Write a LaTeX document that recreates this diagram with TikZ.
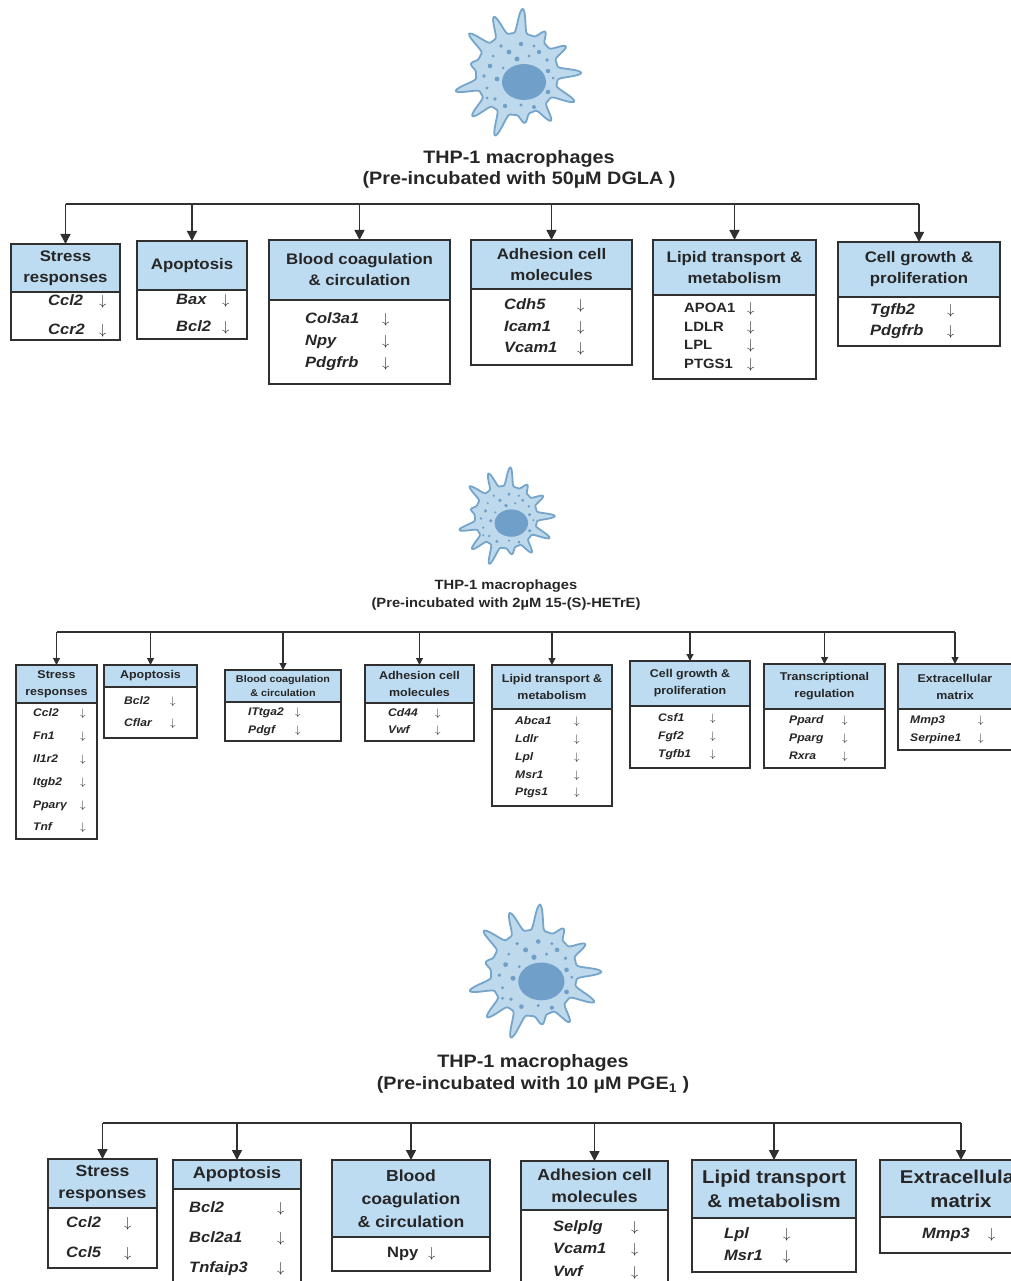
\documentclass[tikz,border=0pt]{standalone}
\usepackage{fontspec}
\setmainfont{Liberation Sans}[FakeStretch=1.1]
\usetikzlibrary{arrows.meta,positioning}

\definecolor{headBlue}{RGB}{189,220,242}
\definecolor{boxEdge}{RGB}{48,48,48}
\definecolor{cellBody}{RGB}{190,217,235}
\definecolor{cellEdge}{RGB}{118,165,203}
\definecolor{cellCore}{RGB}{112,160,201}

% gene name in a fixed-width slot, then the down arrow
\newcommand{\gene}[2]{\makebox[#1pt][l]{#2}$\downarrow$}

% macrophage icon: body with finger-like processes, nucleus and granules
\newcommand{\macrocell}[3]{%
  \begin{scope}[shift={(#1,#2)}, scale=#3]
    \filldraw[fill=cellBody, draw=cellEdge, line width=1.8pt]
      plot[smooth cycle, variable=\t, domain=0:359, samples=360]
      (\t:{41+(18+7*sin(3*\t+50)+5*sin(7*\t+10))*((1+cos(13*\t+20))/2)^3});
    \fill[cellCore] (7,8) ellipse (22 and 18);
    \foreach \dx/\dy/\r in {4/-30/2.2,17/-28/1.6,-16/-28/1.8,-8/-22/2.4,22/-22/2.2,
        -24/-18/1.5,0/-15/2.5,12/-18/1.6,30/-14/1.8,-27/-8/2.3,-14/-6/1.5,
        -33/2/1.8,-20/5/2.4,31/-3/2.2,36/4/1.5,-30/14/1.6,31/18/2.3,
        -22/25/1.8,-12/32/2.2,4/31/1.6,17/33/2.0,-30/24/1.5}
      \fill[cellCore] (\dx,\dy) circle (\r);
  \end{scope}}

\begin{document}
\begin{tikzpicture}[x=1pt, y=-1pt,
    head/.style 2 args={draw=boxEdge, fill=headBlue, line width=1.3pt,
                anchor=north west, align=center, inner sep=0pt, outer sep=0pt,
                text=black!85, font=\bfseries\fontsize{#1}{#2}\selectfont},
    body/.style={draw=boxEdge, fill=white, line width=1.3pt,
                inner sep=0pt, outer sep=0pt},
    genes/.style 2 args={align=left, inner sep=0pt, text=black!85,
                font=\bfseries\itshape\fontsize{#1}{#2}\selectfont},
    caps/.style 2 args={align=left, inner sep=0pt, text=black!85,
                font=\bfseries\fontsize{#1}{#2}\selectfont},
    title/.style 2 args={align=center, inner sep=0pt, text=black!85,
                font=\bfseries\fontsize{#1}{#2}\selectfont},
    bus/.style={draw=boxEdge, line width=1.4pt},
    feed/.style={bus, -{Triangle[length=#1pt,width=#1pt]}},
    feed/.default=10
  ]
  \useasboundingbox (0,0) rectangle (1010,1281);

  % ---------------- DGLA ----------------
  \macrocell{517}{74}{1}
  \node[title={18}{21}] (dglaTitle) at (519,169.5)
    {THP-1 macrophages\\(Pre-incubated with 50µM DGLA )};
  \coordinate (dglaBus) at (0,204);

  \node[head={15.3}{21}, minimum width=109pt, minimum height=48pt] (dglaStress) at (11,244) {Stress\\responses};
  \node[body, minimum width=109pt, minimum height=48pt, below=0pt of dglaStress] (dglaStressB) {};
  \node[genes={15}{29}, right=37pt of dglaStressB.west] {\gene{51}{Ccl2}\\\gene{51}{Ccr2}};

  \node[head={15.3}{21}, minimum width=110pt, minimum height=49pt] (dglaApop) at (137,241) {Apoptosis};
  \node[body, minimum width=110pt, minimum height=49pt, below=0pt of dglaApop] (dglaApopB) {};
  \node[genes={15}{27}, right=39pt of dglaApopB.west] {\gene{46}{Bax}\\\gene{46}{Bcl2}};

  \node[head={15.3}{21}, minimum width=181pt, minimum height=60pt] (dglaBlood) at (269,240) {Blood coagulation\\\& circulation};
  \node[body, minimum width=181pt, minimum height=84pt, below=0pt of dglaBlood] (dglaBloodB) {};
  \node[genes={15}{22}, right=36pt of dglaBloodB.west] {\gene{77}{Col3a1}\\\gene{77}{Npy}\\\gene{77}{Pdgfrb}};

  \node[head={15.3}{21}, minimum width=161pt, minimum height=49pt] (dglaAdh) at (471,240) {Adhesion cell\\molecules};
  \node[body, minimum width=161pt, minimum height=76pt, below=0pt of dglaAdh] (dglaAdhB) {};
  \node[genes={15}{21.5}, right=33pt of dglaAdhB.west] {\gene{73}{Cdh5}\\\gene{73}{Icam1}\\\gene{73}{Vcam1}};

  \node[head={15.3}{21}, minimum width=163pt, minimum height=55pt] (dglaLipid) at (653,240) {Lipid transport \&\\metabolism};
  \node[body, minimum width=163pt, minimum height=84pt, below=0pt of dglaLipid] (dglaLipidB) {};
  \node[caps={13.5}{18.7}, right=31pt of dglaLipidB.west] {\gene{63}{APOA1}\\\gene{63}{LDLR}\\\gene{63}{LPL}\\\gene{63}{PTGS1}};

  \node[head={15.3}{21}, minimum width=162pt, minimum height=55pt] (dglaGrowth) at (838,242) {Cell growth \&\\proliferation};
  \node[body, minimum width=162pt, minimum height=49pt, below=0pt of dglaGrowth] (dglaGrowthB) {};
  \node[genes={15}{21}, right=32pt of dglaGrowthB.west] {\gene{77}{Tgfb2}\\\gene{77}{Pdgfrb}};

  \draw[bus] (dglaStress.north |- dglaBus) -- (dglaGrowth.north |- dglaBus);
  \foreach \b in {Stress,Apop,Blood,Adh,Lipid,Growth}
    \draw[feed] (dgla\b.north |- dglaBus) -- (dgla\b.north);

  % ---------------- 15-(S)-HETrE ----------------
  \macrocell{506}{517}{0.76}
  \node[title={13.4}{18}] (hetreTitle) at (506,595)
    {THP-1 macrophages\\(Pre-incubated with 2µM 15-(S)-HETrE)};
  \coordinate (hetreBus) at (0,632);

  \node[head={11.3}{17}, minimum width=81pt, minimum height=38pt] (hetreStress) at (16,665) {Stress\\responses};
  \node[body, minimum width=81pt, minimum height=136pt, below=0pt of hetreStress] (hetreStressB) {};
  \node[genes={11}{22.8}, right=17pt of hetreStressB.west]
    {\gene{47}{Ccl2}\\\gene{47}{Fn1}\\\gene{47}{Il1r2}\\\gene{47}{Itgb2}\\\gene{47}{Pparγ}\\\gene{47}{Tnf}};

  \node[head={11.3}{17}, minimum width=93pt, minimum height=22pt] (hetreApop) at (104,665) {Apoptosis};
  \node[body, minimum width=93pt, minimum height=51pt, below=0pt of hetreApop] (hetreApopB) {};
  \node[genes={11}{22}, right=20pt of hetreApopB.west] {\gene{46}{Bcl2}\\\gene{46}{Cflar}};

  \node[head={9.8}{13.5}, minimum width=116pt, minimum height=32pt] (hetreBlood) at (225,670) {Blood coagulation\\\& circulation};
  \node[body, minimum width=116pt, minimum height=39pt, below=0pt of hetreBlood] (hetreBloodB) {};
  \node[genes={11}{18}, right=23pt of hetreBloodB.west] {\gene{47}{ITtga2}\\\gene{47}{Pdgf}};

  \node[head={11.3}{17}, minimum width=109pt, minimum height=38pt] (hetreAdh) at (365,665) {Adhesion cell\\molecules};
  \node[body, minimum width=109pt, minimum height=38pt, below=0pt of hetreAdh] (hetreAdhB) {};
  \node[genes={11}{17}, right=23pt of hetreAdhB.west] {\gene{47}{Cd44}\\\gene{47}{Vwf}};

  \node[head={11.3}{17}, minimum width=120pt, minimum height=44pt] (hetreLipid) at (492,665) {Lipid transport \&\\metabolism};
  \node[body, minimum width=120pt, minimum height=97pt, below=0pt of hetreLipid] (hetreLipidB) {};
  \node[genes={11}{17.8}, right=23pt of hetreLipidB.west]
    {\gene{59}{Abca1}\\\gene{59}{Ldlr}\\\gene{59}{Lpl}\\\gene{59}{Msr1}\\\gene{59}{Ptgs1}};

  \node[head={11.3}{17}, minimum width=120pt, minimum height=45pt] (hetreGrowth) at (630,661) {Cell growth \&\\proliferation};
  \node[body, minimum width=120pt, minimum height=62pt, below=0pt of hetreGrowth] (hetreGrowthB) {};
  \node[genes={11}{18}, right=28pt of hetreGrowthB.west] {\gene{52}{Csf1}\\\gene{52}{Fgf2}\\\gene{52}{Tgfb1}};

  \node[head={11.3}{17}, minimum width=121pt, minimum height=45pt] (hetreTrans) at (764,664) {Transcriptional\\regulation};
  \node[body, minimum width=121pt, minimum height=59pt, below=0pt of hetreTrans] (hetreTransB) {};
  \node[genes={11}{18}, right=25pt of hetreTransB.west] {\gene{53}{Ppard}\\\gene{53}{Pparg}\\\gene{53}{Rxra}};

  \node[head={11.3}{17}, minimum width=114pt, minimum height=45pt] (hetreMatrix) at (898,664) {Extracellular\\matrix};
  \node[body, minimum width=114pt, minimum height=41pt, below=0pt of hetreMatrix] (hetreMatrixB) {};
  \node[genes={11}{18}, right=12pt of hetreMatrixB.west] {\gene{68}{Mmp3}\\\gene{68}{Serpine1}};

  \draw[bus, line width=1.1pt] (hetreStress.north |- hetreBus) -- (hetreMatrix.north |- hetreBus);
  \foreach \b in {Stress,Apop,Blood,Adh,Lipid,Growth,Trans,Matrix}
    \draw[feed=7, line width=1.1pt] (hetre\b.north |- hetreBus) -- (hetre\b.north);

  % ---------------- PGE1 ----------------
  \macrocell{534}{973}{1.05}
  \node[title={18}{22}] (pgeTitle) at (533,1074)
    {THP-1 macrophages\\(Pre-incubated with 10 µM PGE\textsubscript{1} )};
  \coordinate (pgeBus) at (0,1123);

  \node[head={16}{22}, minimum width=109pt, minimum height=49pt] (pgeStress) at (48,1159) {Stress\\responses};
  \node[body, minimum width=109pt, minimum height=60pt, below=0pt of pgeStress] (pgeStressB) {};
  \node[genes={15}{30}, right=18pt of pgeStressB.west] {\gene{58}{Ccl2}\\\gene{58}{Ccl5}};

  \node[head={16.4}{22}, minimum width=128pt, minimum height=29pt] (pgeApop) at (173,1160) {Apoptosis};
  \node[body, minimum width=128pt, minimum height=100pt, below=0pt of pgeApop] (pgeApopB) {};
  \node[genes={15}{30}, right=16pt of pgeApopB.west] {\gene{88}{Bcl2}\\\gene{88}{Bcl2a1}\\\gene{88}{Tnfaip3}};

  \node[head={16}{23}, minimum width=158pt, minimum height=77pt] (pgeBlood) at (332,1160) {Blood\\coagulation\\\& circulation};
  \node[body, minimum width=158pt, minimum height=34pt, below=0pt of pgeBlood] (pgeBloodB) {};
  \node[caps={15}{22}, right=55pt of pgeBloodB.west] {\gene{41}{Npy}};

  \node[head={16}{22}, minimum width=147pt, minimum height=49pt] (pgeAdh) at (521,1161) {Adhesion cell\\molecules};
  \node[body, minimum width=147pt, minimum height=79pt, below=0pt of pgeAdh] (pgeAdhB) {};
  \node[genes={15}{22.5}, right=32pt of pgeAdhB.west] {\gene{78}{Selplg}\\\gene{78}{Vcam1}\\\gene{78}{Vwf}};

  \node[head={18.5}{24}, minimum width=164pt, minimum height=58pt] (pgeLipid) at (692,1160) {Lipid transport\\\& metabolism};
  \node[body, minimum width=164pt, minimum height=54pt, below=0pt of pgeLipid] (pgeLipidB) {};
  \node[genes={15}{22}, right=32pt of pgeLipidB.west] {\gene{59}{Lpl}\\\gene{59}{Msr1}};

  \node[head={18.5}{24}, minimum width=162pt, minimum height=57pt] (pgeMatrix) at (880,1160) {Extracellular\\matrix};
  \node[body, minimum width=162pt, minimum height=36pt, below=0pt of pgeMatrix] (pgeMatrixB) {};
  \node[genes={15}{22}, right=42pt of pgeMatrixB.west] {\gene{66}{Mmp3}};

  \draw[bus] (pgeStress.north |- pgeBus) -- (pgeMatrix.north |- pgeBus);
  \foreach \b in {Stress,Apop,Blood,Adh,Lipid,Matrix}
    \draw[feed] (pge\b.north |- pgeBus) -- (pge\b.north);
\end{tikzpicture}
\end{document}
